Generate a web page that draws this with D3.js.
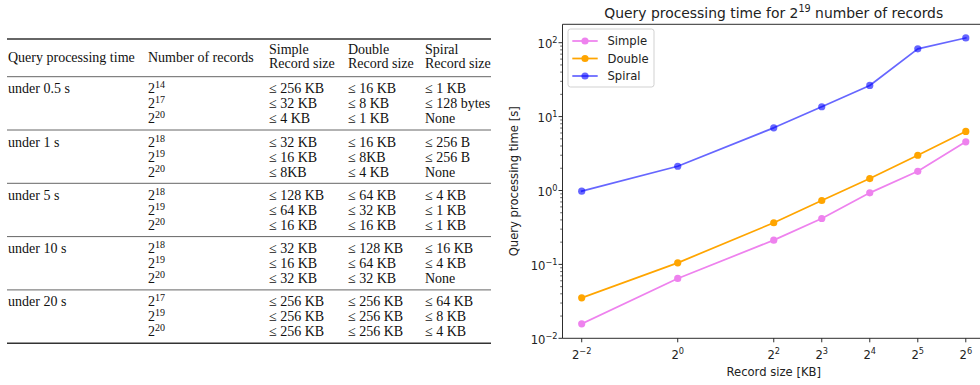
<!DOCTYPE html>
<html>
<head>
<meta charset="utf-8">
<script src="https://cdn.jsdelivr.net/npm/d3@7"></script>
<style>
  html, body { margin: 0; padding: 0; background: #fff; }
  svg { display: block; }
  .tbl { font-family: "Liberation Serif", "Times New Roman", serif; font-size: 14px; fill: #111; }
  .mpl { font-family: "DejaVu Sans", sans-serif; fill: #222; }
</style>
</head>
<body>
<svg id="chart" width="980" height="385"></svg>
<script>
// ---------------- Table data ----------------
const tableHeaders = [["Query processing time"], ["Number of records"], ["Simple", "Record size"], ["Double", "Record size"], ["Spiral", "Record size"]];
const tTimes = ["under 0.5 s", "under 1 s", "under 5 s", "under 10 s", "under 20 s"];
const tRecordExp = [[14, 17, 20], [18, 19, 20], [18, 19, 20], [18, 19, 20], [17, 19, 20]];
const tSimple = [["≤ 256 KB", "≤ 32 KB", "≤ 4 KB"], ["≤ 32 KB", "≤ 16 KB", "≤ 8KB"], ["≤ 128 KB", "≤ 64 KB", "≤ 16 KB"], ["≤ 32 KB", "≤ 16 KB", "≤ 32 KB"], ["≤ 256 KB", "≤ 256 KB", "≤ 256 KB"]];
const tDouble = [["≤ 16 KB", "≤ 8 KB", "≤ 1 KB"], ["≤ 16 KB", "≤ 8KB", "≤ 4 KB"], ["≤ 64 KB", "≤ 32 KB", "≤ 16 KB"], ["≤ 128 KB", "≤ 64 KB", "≤ 32 KB"], ["≤ 256 KB", "≤ 256 KB", "≤ 256 KB"]];
const tSpiral = [["≤ 1 KB", "≤ 128 bytes", "None"], ["≤ 256 B", "≤ 256 B", "None"], ["≤ 4 KB", "≤ 1 KB", "≤ 1 KB"], ["≤ 16 KB", "≤ 4 KB", "None"], ["≤ 64 KB", "≤ 8 KB", "≤ 4 KB"]];

// ---------------- Chart data ----------------
const chartTitle = "Query processing time for 2^19 number of records";
const xLabel = "Record size [KB]";
const yLabel = "Query processing time [s]";
const recordSizes = [0.25, 1, 4, 8, 16, 32, 64];
const xTickExps = [-2, 0, 2, 3, 4, 5, 6];
const yTickExps = [-2, -1, 0, 1, 2];
const seriesNames = ["Simple", "Double", "Spiral"];
const simpleTimes = [0.0157, 0.0645, 0.213, 0.418, 0.93, 1.82, 4.56];
const doubleTimes = [0.0353, 0.105, 0.366, 0.732, 1.45, 3.0, 6.3];
const spiralTimes = [0.98, 2.13, 7.05, 13.6, 26.4, 82.6, 116];
const seriesColors = ["#ee82ee", "#ffa500", "#0000ff"];
const seriesOpacity = [1, 1, 0.6];

const svg = d3.select("#chart");

// ================= TABLE =================
const colX = [8, 148, 269, 348, 425];
const tblLeft = 7, tblRight = 491;
const topRule = 39, headRule = 76.7, groupPitch = 53.3;
const tbl = svg.append("g").attr("class", "tbl");

// rules
const ruleYs = [headRule];
for (let g = 1; g < tTimes.length; g++) ruleYs.push(headRule + g * groupPitch);
tbl.append("line").attr("x1", tblLeft).attr("x2", tblRight).attr("y1", topRule).attr("y2", topRule)
  .attr("stroke", "#333").attr("stroke-width", 1.4);
tbl.selectAll("line.mid").data(ruleYs).enter().append("line").attr("class", "mid")
  .attr("x1", tblLeft).attr("x2", tblRight).attr("y1", d => d).attr("y2", d => d)
  .attr("stroke", "#555").attr("stroke-width", 0.9);
const bottomRule = headRule + tTimes.length * groupPitch;
tbl.append("line").attr("x1", tblLeft).attr("x2", tblRight).attr("y1", bottomRule).attr("y2", bottomRule)
  .attr("stroke", "#333").attr("stroke-width", 1.4);

// headers
tableHeaders.forEach((h, i) => {
  if (h.length === 1) {
    tbl.append("text").attr("x", colX[i]).attr("y", 61.5).text(h[0]);
  } else {
    tbl.append("text").attr("x", colX[i]).attr("y", 54).text(h[0]);
    tbl.append("text").attr("x", colX[i]).attr("y", 68).text(h[1]);
  }
});

// body
tTimes.forEach((t, g) => {
  const base = headRule + g * groupPitch + 16.5;
  tbl.append("text").attr("x", colX[0]).attr("y", base).text(t);
  for (let r = 0; r < 3; r++) {
    const y = base + r * 15;
    const rec = tbl.append("text").attr("x", colX[1]).attr("y", y);
    rec.append("tspan").text("2");
    rec.append("tspan").attr("dy", -5).style("font-size", "10px").text(tRecordExp[g][r]);
    tbl.append("text").attr("x", colX[2]).attr("y", y).text(tSimple[g][r]);
    tbl.append("text").attr("x", colX[3]).attr("y", y).text(tDouble[g][r]);
    tbl.append("text").attr("x", colX[4]).attr("y", y).text(tSpiral[g][r]);
  }
});

// ================= CHART =================
const ax = { left: 562.5, right: 985, top: 24.3, bottom: 338.3 };
const x = d3.scaleLog().base(2).domain([Math.pow(2, -2.4), Math.pow(2, 6.4)]).range([ax.left, ax.right]);
const y = d3.scaleLog().domain([0.01, Math.pow(10, 2.249)]).range([ax.bottom, ax.top]);

const chart = svg.append("g").attr("class", "mpl");
const fs = 11.6;

// data lines
const series = [simpleTimes, doubleTimes, spiralTimes];
const line = d3.line().x((d, i) => x(recordSizes[i])).y(d => y(d));
series.forEach((vals, si) => {
  const g = chart.append("g");
  g.append("path").datum(vals).attr("d", line).attr("fill", "none")
    .attr("stroke", seriesColors[si]).attr("stroke-width", 1.75).attr("stroke-opacity", seriesOpacity[si])
    .attr("stroke-linejoin", "round").attr("stroke-linecap", "square");
  g.selectAll("circle").data(vals).enter().append("circle")
    .attr("cx", (d, i) => x(recordSizes[i])).attr("cy", d => y(d)).attr("r", 3.6)
    .attr("fill", seriesColors[si]).attr("fill-opacity", seriesOpacity[si]);
});

// spines
const spine = chart.append("g").attr("stroke", "#222").attr("stroke-width", 0.95);
spine.append("line").attr("x1", ax.left).attr("x2", ax.left).attr("y1", ax.top).attr("y2", ax.bottom);
spine.append("line").attr("x1", ax.left).attr("x2", ax.right).attr("y1", ax.bottom).attr("y2", ax.bottom);
spine.append("line").attr("x1", ax.left).attr("x2", ax.right).attr("y1", ax.top).attr("y2", ax.top);
spine.append("line").attr("x1", ax.right).attr("x2", ax.right).attr("y1", ax.top).attr("y2", ax.bottom);

// x ticks
xTickExps.forEach(e => {
  const px = x(Math.pow(2, e));
  chart.append("line").attr("x1", px).attr("x2", px).attr("y1", ax.bottom).attr("y2", ax.bottom + 4)
    .attr("stroke", "#222").attr("stroke-width", 0.95);
  const t = chart.append("text").attr("x", px).attr("y", 359).attr("text-anchor", "middle").style("font-size", fs + "px");
  t.append("tspan").text("2");
  t.append("tspan").attr("dy", -5).style("font-size", "8.2px").text(e < 0 ? "\u2212" + (-e) : String(e));
});

// y ticks (major + minor)
yTickExps.forEach(e => {
  const py = y(Math.pow(10, e));
  chart.append("line").attr("x1", ax.left - 4).attr("x2", ax.left).attr("y1", py).attr("y2", py)
    .attr("stroke", "#222").attr("stroke-width", 0.95);
  const t = chart.append("text").attr("x", 557.5).attr("y", py + 5.5).attr("text-anchor", "end").style("font-size", fs + "px");
  t.append("tspan").text("10");
  t.append("tspan").attr("dy", -5.3).style("font-size", "8.2px").text(e < 0 ? "\u2212" + (-e) : String(e));
});
const yDom = y.domain();
for (let e = -2; e <= 2; e++) {
  for (let m = 2; m <= 9; m++) {
    const v = m * Math.pow(10, e);
    if (v < yDom[0] || v > yDom[1]) continue;
    const py = y(v);
    chart.append("line").attr("x1", ax.left - 2.3).attr("x2", ax.left).attr("y1", py).attr("y2", py)
      .attr("stroke", "#222").attr("stroke-width", 0.7);
  }
}

// axis labels
chart.append("text").attr("x", (ax.left + ax.right) / 2).attr("y", 375.5).attr("text-anchor", "middle")
  .style("font-size", fs + "px").text(xLabel);
chart.append("text").attr("transform", `translate(517.5,${(ax.top + ax.bottom) / 2}) rotate(-90)`)
  .attr("text-anchor", "middle").style("font-size", fs + "px").text(yLabel);

// title with superscript
const tParts = chartTitle.split("^");
const restIdx = tParts[1].indexOf(" ");
const title = chart.append("text").attr("x", (ax.left + ax.right) / 2).attr("y", 18)
  .attr("text-anchor", "middle").style("font-size", "13.9px");
title.append("tspan").text(tParts[0]);
title.append("tspan").attr("dy", -6).style("font-size", "9.7px").text(tParts[1].slice(0, restIdx));
title.append("tspan").attr("dy", 6).text(tParts[1].slice(restIdx));

// legend
const leg = chart.append("g");
leg.append("rect").attr("x", 568).attr("y", 29).attr("width", 86).attr("height", 58).attr("rx", 2.5)
  .attr("fill", "#fff").attr("fill-opacity", 0.8).attr("stroke", "#cccccc").attr("stroke-width", 0.9);
seriesNames.forEach((name, i) => {
  const ly = 41 + i * 17.5;
  leg.append("line").attr("x1", 572.3).attr("x2", 597.7).attr("y1", ly).attr("y2", ly)
    .attr("stroke", seriesColors[i]).attr("stroke-width", 1.75).attr("stroke-opacity", seriesOpacity[i]);
  leg.append("circle").attr("cx", 585).attr("cy", ly).attr("r", 3.6)
    .attr("fill", seriesColors[i]).attr("fill-opacity", seriesOpacity[i]);
  leg.append("text").attr("x", 607.5).attr("y", ly + 4.2).style("font-size", fs + "px").text(name);
});
</script>
</body>
</html>
